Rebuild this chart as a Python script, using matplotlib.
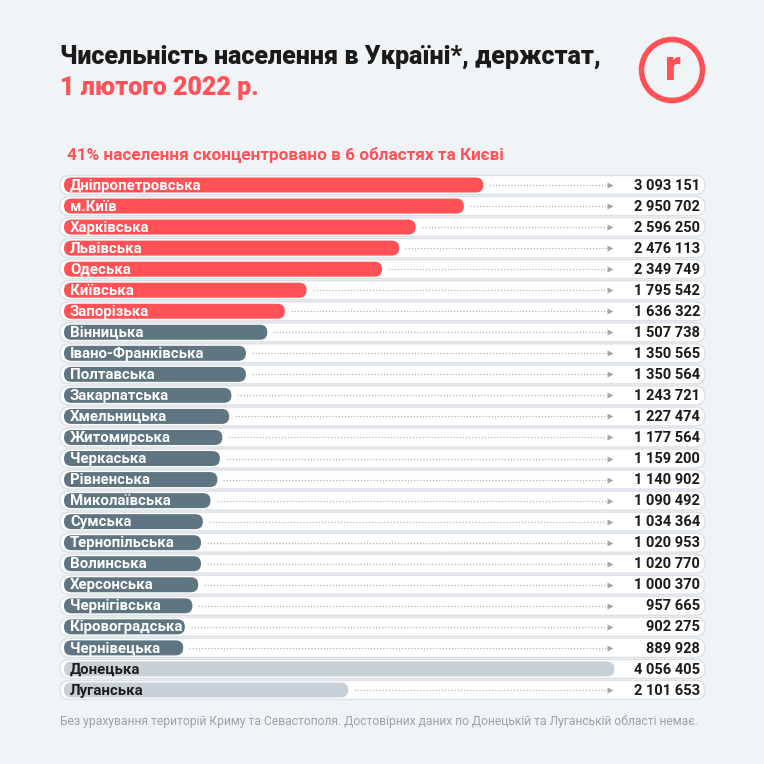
import matplotlib
matplotlib.use("Agg")
import matplotlib.pyplot as plt
from matplotlib.patches import FancyBboxPatch, Circle

plt.rcParams['font.family'] = ['Roboto', 'DejaVu Sans']

regions = ['Дніпропетровська', 'м.Київ', 'Харківська', 'Львівська', 'Одеська',
           'Київська', 'Запорізька', 'Вінницька', 'Івано-Франківська', 'Полтавська',
           'Закарпатська', 'Хмельницька', 'Житомирська', 'Черкаська', 'Рівненська',
           'Миколаївська', 'Сумська', 'Тернопільська', 'Волинська', 'Херсонська',
           'Чернігівська', 'Кіровоградська', 'Чернівецька', 'Донецька', 'Луганська']
population = [3093151, 2950702, 2596250, 2476113, 2349749,
              1795542, 1636322, 1507738, 1350565, 1350564,
              1243721, 1227474, 1177564, 1159200, 1140902,
              1090492, 1034364, 1020953, 1020770, 1000370,
              957665, 902275, 889928, 4056405, 2101653]
# 'top' = 6 областей + Київ, 'rest' = інші, 'nodata' = немає достовірних даних
group = ['top'] * 7 + ['rest'] * 16 + ['nodata'] * 2

BG = '#F1F4F7'
RED = '#FF5156'
colors = {'top': RED, 'rest': '#5F7682', 'nodata': '#C9D1D8'}
label_colors = {'top': 'white', 'rest': 'white', 'nodata': '#1E1E1E'}

W = H = 764
fig = plt.figure(figsize=(W / 100, H / 100), dpi=100, facecolor=BG)

# фон з піксельними координатами для заголовків
bg = fig.add_axes([0, 0, 1, 1])
bg.set_xlim(0, W)
bg.set_ylim(H, 0)
bg.axis('off')

bg.text(60, 57, 'Чисельність населення в Україні*, держстат,', fontsize=18,
        fontweight='heavy', color='#1A1A1A', va='center', ha='left')
bg.text(60, 88, '1 лютого 2022 р.', fontsize=18, fontweight='heavy',
        color=RED, va='center', ha='left')
bg.add_patch(Circle((672, 70), 30.5, fill=False, ec=RED, lw=4))
bg.text(673, 68, 'r', fontsize=30, fontweight='heavy', color=RED,
        ha='center', va='center')
bg.text(67, 155, '41% населення сконцентровано в 6 областях та Києві',
        fontsize=12.3, fontweight='bold', color=RED, va='center', ha='left')
bg.text(60, 722, 'Без урахування територій Криму та Севастополя. '
        'Достовірних даних по Донецькій та Луганській області немає.',
        fontsize=8.7, color='#9AA2AA', va='center', ha='left')

# осі з даними
px_per_m = 136.2       # пікселів на мільйон
x_zero = 62            # піксель нуля
row_h = 21.04          # крок рядка
row0 = 185             # центр першого рядка
ax_l, ax_r, ax_t, ax_b = 55, 712, 174, 701
ax = fig.add_axes([ax_l / W, (H - ax_b) / H, (ax_r - ax_l) / W, (ax_b - ax_t) / H])
ax.set_xlim((ax_l - x_zero) / px_per_m, (ax_r - x_zero) / px_per_m)
ax.set_ylim((ax_b - row0) / row_h, (ax_t - row0) / row_h)
ax.axis('off')


def px2x(p):
    return (p - x_zero) / px_per_m


aspect = px_per_m / row_h
track_h = 19 / row_h
bar_h = 15 / row_h

for i, (name, val, g) in enumerate(zip(regions, population, group)):
    v = val / 1e6
    # біла доріжка
    ax.add_patch(FancyBboxPatch((px2x(60), i - track_h / 2), px2x(705) - px2x(60), track_h,
                                boxstyle='round,pad=0,rounding_size=%f' % (9.5 / px_per_m),
                                mutation_aspect=aspect, fc='white', ec='#DCE1E6', lw=1.0))
    # стовпчик
    ax.add_patch(FancyBboxPatch((px2x(64), i - bar_h / 2), v - px2x(64), bar_h,
                                boxstyle='round,pad=0,rounding_size=%f' % (7.5 / px_per_m),
                                mutation_aspect=aspect, fc=colors[g], ec='none'))
    # пунктир до значення
    end = v + px2x(68) - px2x(62)
    if end < px2x(600):
        ax.plot([end, px2x(606)], [i, i], color='#AEB6BE', lw=0.9,
                linestyle=(0, (1, 1.5)), solid_capstyle='butt')
        ax.plot(px2x(610), i, marker='>', ms=4, color='#9FA7AE', mec='none')
    ax.text(px2x(70), i + 0.03, name, fontsize=10.8, fontweight='bold',
            color=label_colors[g], va='center', ha='left')
    ax.text(px2x(700), i + 0.03, f'{val:,}'.replace(',', ' '), fontsize=10.5,
            fontweight='bold', color='#1A1A1A', va='center', ha='right')

fig.savefig('out.png', dpi=100, facecolor=BG)
